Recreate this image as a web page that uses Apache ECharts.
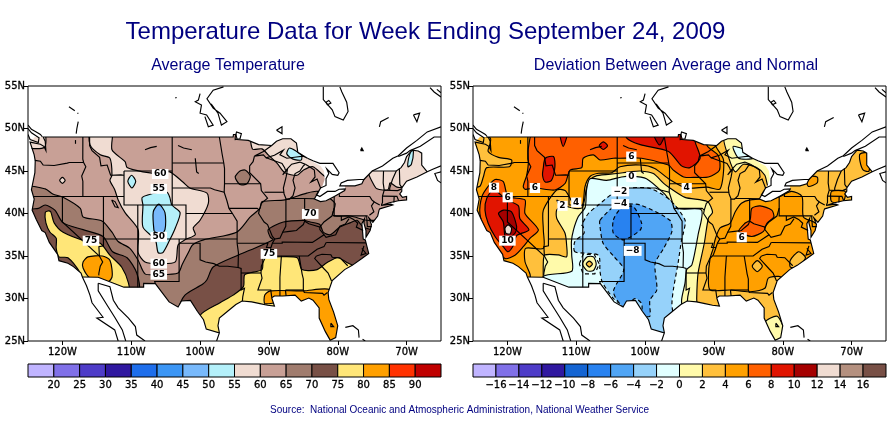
<!DOCTYPE html>
<html><head><meta charset="utf-8">
<style>html,body{margin:0;padding:0;background:#fff}#c{width:895px;height:423px}</style>
<script src="https://cdn.jsdelivr.net/npm/echarts@6/dist/echarts.min.js"></script>
</head><body><div id="c"></div>
<script>
const titleText = 'Temperature Data for Week Ending September 24, 2009';
const leftTitle = 'Average Temperature';
const rightTitle = 'Deviation Between Average and Normal';
const sourceText = 'Source:  National Oceanic and Atmospheric Administration, National Weather Service';
const lonTicks = [-120,-110,-100,-90,-80,-70];
const lonRange = [-125,-65];
const latRange = [25,55];

const avgBands = [15,20,25,30,35,40,45,50,55,60,65,70,75,80,85,90];
const avgColors = ['#c0b4ff','#8070e8','#4e3cc8','#3018a0','#1e6eeb','#3c96f5','#78b9fb','#b4f0fa','#f0dcd2','#c8a096','#a07c6e','#785046','#ffe678','#ffa000','#ff3200','#c00000'];
const devBands = [-18,-16,-14,-12,-10,-8,-6,-4,-2,0,2,4,6,8,10,12,14,16];
const devColors = ['#c0b4ff','#8070e8','#4e3cc8','#3018a0','#1464d2','#2882f0','#50a5f5','#96d2fa','#e1ffff','#fffaaa','#ffc03c','#ffa000','#ff6000','#e11400','#a50000','#f0dcd2','#b4907f','#785046'];

const landMask = [[-124.8,48.3],[-124,49],[-95.2,49],[-95.15,49.3],[-94.8,49.3],[-94.6,48.7],[-93,48.6],[-91.5,48.1],[-89.6,48],[-88.9,48.5],[-88,48.8],[-86.8,48.8],[-86,48.3],[-85.8,47.2],[-84.4,46.5],[-83.3,45.95],[-82.5,45.6],[-82,45],[-81.9,44],[-82.2,43.3],[-82.5,43],[-82.9,42.4],[-83.2,42],[-83.4,41.7],[-82.5,41.4],[-81.7,41.5],[-80.5,42],[-79,42.7],[-78.9,42.9],[-79,43.27],[-77.5,43.25],[-76.5,43.5],[-76.2,44],[-75,45],[-71.5,45],[-70.8,45.4],[-70.3,46],[-70,46.7],[-69.2,47.45],[-68.3,47.35],[-67.8,47.1],[-67.8,45.7],[-67,44.9],[-68.5,44.3],[-70,43.8],[-70.7,43],[-70.7,42.6],[-71,42.3],[-70.6,41.9],[-70,42],[-70,41.6],[-71.2,41.5],[-72.5,41.27],[-73.7,40.95],[-72.3,41.1],[-72,41],[-73.9,40.55],[-74,40.4],[-74.2,39.7],[-74.9,38.95],[-75.5,39.5],[-75.1,38.7],[-75.3,38],[-75.9,37.2],[-75.9,38],[-76.2,38.9],[-76.1,39.4],[-76.5,38.8],[-76.4,37.9],[-76.3,37],[-76,36.9],[-75.5,35.3],[-76.5,34.7],[-77.9,33.9],[-79,33.4],[-80.8,32.1],[-81.4,30.7],[-81.3,29.9],[-80.6,28.4],[-80,26.8],[-80.3,25.4],[-81.1,25.1],[-81.8,26.1],[-82.7,27.7],[-82.7,28.9],[-83.6,29.8],[-84.2,30.05],[-85.3,29.7],[-86.2,30.4],[-88,30.3],[-89.2,30.3],[-89.6,30.1],[-89.2,29.1],[-90.2,29.2],[-91.3,29.4],[-92.5,29.6],[-93.9,29.7],[-94.8,29.3],[-96,28.5],[-97.2,27.7],[-97.4,26.8],[-97.2,25.95],[-99.1,26.4],[-99.5,27.5],[-100.4,28.5],[-101.4,29.77],[-102.7,29.7],[-103.2,29],[-104.5,29.6],[-106.5,31.75],[-108.2,31.78],[-108.2,31.33],[-111.07,31.33],[-114.8,32.5],[-117.1,32.53],[-117.3,33],[-118.4,33.75],[-119.2,34.15],[-120.5,34.45],[-120.7,35.2],[-121.9,36.6],[-122.5,37.75],[-123,38],[-123.8,39.3],[-124.4,40.4],[-124.1,41.7],[-124.5,42.8],[-124,44.8],[-123.95,46.2],[-124.1,46.9]];

const coastLines = [
[[-122.8,49],[-122.5,48.5],[-122.4,47.4],[-122.7,47.9],[-123.2,48.15],[-124.7,48.4],[-124.1,46.9],[-123.95,46.2],[-124,44.8],[-124.5,42.8],[-124.1,41.7],[-124.4,40.4],[-123.8,39.3],[-123,38],[-122.5,37.75],[-121.9,36.6],[-120.7,35.2],[-120.5,34.45],[-119.2,34.15],[-118.4,33.75],[-117.3,33],[-117.1,32.53],[-116.5,31.5],[-116,30.4],[-115.7,29.5],[-114.1,27.8],[-115,27.7],[-112.4,26.3],[-111.9,25]],
[[-114.8,31.8],[-114.8,30.9],[-113.5,29.2],[-112.4,27.8],[-111.3,26.3],[-110.8,25]],
[[-114.8,31.8],[-113.1,31.4],[-112.6,29.8],[-111.9,28.9],[-110.4,27.7],[-109.4,26.7],[-109.2,25.7],[-108,25]],
[[-122.8,49],[-95.2,49],[-95.15,49.3],[-94.8,49.3],[-94.6,48.7],[-93,48.6],[-91.5,48.1],[-89.6,48]],
[[-117.1,32.53],[-114.8,32.5],[-111.07,31.33],[-108.2,31.33],[-108.2,31.78],[-106.5,31.75],[-104.5,29.6],[-103.2,29],[-102.7,29.7],[-101.4,29.77],[-100.4,28.5],[-99.5,27.5],[-99.1,26.4],[-97.2,25.95],[-97.6,25]],
[[-97.2,25.95],[-97.4,26.8],[-97.2,27.7],[-96,28.5],[-94.8,29.3],[-93.9,29.7],[-92.5,29.6],[-91.3,29.4],[-90.2,29.2],[-89.2,29.1],[-89.6,30.1],[-89.2,30.3],[-88,30.3],[-86.2,30.4],[-85.3,29.7],[-84.2,30.05],[-83.6,29.8],[-82.7,28.9],[-82.7,27.7],[-81.8,26.1],[-81.1,25.1],[-80.3,25.4],[-80,26.8],[-80.6,28.4],[-81.3,29.9],[-81.4,30.7],[-80.8,32.1],[-79,33.4],[-77.9,33.9],[-76.5,34.7],[-75.5,35.3],[-76,36.9],[-76.3,37],[-76.4,37.9],[-76.5,38.8],[-76.1,39.4],[-76.2,38.9],[-75.9,38],[-75.9,37.2],[-75.3,38],[-75.1,38.7],[-75.5,39.5],[-74.9,38.95],[-74.2,39.7],[-74,40.4],[-73.9,40.55],[-72,41],[-72.3,41.1],[-73.7,40.95],[-72.5,41.27],[-71.2,41.5],[-70,41.6],[-70,42],[-70.6,41.9],[-71,42.3],[-70.7,42.6],[-70.7,43],[-70,43.8],[-68.5,44.3],[-67,44.9],[-66.2,45.2],[-65,45.6]],
[[-67,44.9],[-67.8,45.7],[-67.8,47.1],[-68.3,47.35],[-69.2,47.45],[-70,46.7],[-70.3,46],[-70.8,45.4],[-71.5,45],[-75,45]],
[[-76.5,35.9],[-75.9,35.3],[-76.6,35.1],[-76.2,36.2]],
[[-92.1,46.75],[-90.8,47.3],[-89.6,48],[-88.9,48.5],[-88,48.8],[-86.8,48.8],[-86,48.3],[-85.8,47.2],[-84.4,46.5],[-85,46.75],[-86,46.65],[-87.4,46.5],[-88.4,46.9],[-87.9,47.45],[-89.2,46.85],[-90.4,46.55],[-90.8,46.9],[-92.1,46.75]],
[[-84.7,45.78],[-85.5,46.05],[-86.7,45.8],[-87.5,45.1],[-88,44.55],[-87.3,45.2],[-87.5,44.3],[-87.9,43],[-87.8,42.3],[-87.5,41.7],[-87,41.7],[-86.5,42.1],[-86.2,43],[-86.5,43.9],[-86.2,44.7],[-85.5,45],[-85,45.6],[-84.7,45.78]],
[[-84.7,45.78],[-84.1,45.5],[-83.4,45.1],[-83.3,44.3],[-83.9,43.7],[-83,44.05],[-82.5,43],[-81.7,43.3],[-81.7,44.1],[-81.3,44.7],[-81.6,45.25],[-80.8,44.6],[-80,44.5],[-79.8,44.8],[-80.7,45.9],[-82.6,45.9],[-83.6,46.2],[-84.4,46.5]],
[[-82.5,43],[-82.9,42.4],[-83.2,42],[-83.4,41.7],[-82.5,41.4],[-81.7,41.5],[-80.5,42],[-79,42.7],[-78.9,42.9],[-79.8,42.85],[-80.4,42.6],[-81.5,42.6],[-82.6,42],[-83.1,42.2],[-82.5,43]],
[[-79,43.27],[-77.5,43.25],[-76.5,43.5],[-76.2,44],[-76.9,44],[-78.6,43.9],[-79.5,43.6],[-79.7,43.25],[-79,43.27]],
[[-76.2,44],[-75,45],[-73.5,45.6],[-72,46.5],[-71.2,46.8],[-70,47.7],[-68.5,48.6],[-67,49.6],[-65,50.2]],
[[-71.2,46.7],[-70,47.1],[-69.5,47.4],[-68,47.9],[-66,49],[-65,49]],
[[-65,44.9],[-65.9,44.7],[-65.5,43.9],[-65,43.6]],
[[-66.6,54.8],[-66,54.3],[-65,53.7]],[[-65.6,54.6],[-65,54.2]],
[[-82.1,54.9],[-82.1,53.4],[-80.8,52.2],[-80.4,51.4],[-79.2,51],[-78.5,52],[-78.7,53.1],[-79.4,54.3],[-79.7,54.9]],
[[-81.7,53.1],[-81.3,53.3],[-81,53],[-81.5,52.8],[-81.7,53.1]],
[[-88.9,49.8],[-88.1,50.2],[-88.1,49.4],[-88.9,49.8]],
[[-73.95,50.2],[-73.76,50.8],[-72.6,51.3]],
[[-69,51.6],[-68.1,51.8],[-68.5,50.8],[-69,51.6]],
[[-76.7,47.4],[-76.3,47.4],[-76.5,47.7],[-76.7,47.4]],
[[-96.6,54.9],[-98.1,54.5],[-99,53.5],[-98.1,52.4],[-97.1,51.8],[-96.1,50.8],[-96.9,50.4],[-97.4,51.8],[-98.4,52.9]],
[[-100,54.1],[-100.25,53.35],[-100.7,53.15],[-99.8,52.76],[-100,51.8],[-99.05,51.6],[-98.1,50.4],[-98.8,50.2],[-99.3,51.4]],
[[-119.05,52.56],[-118.2,52.1]],[[-117.8,51.85],[-117.7,51.75]],[[-117.7,50.8],[-117.9,50],[-118,49.4]],[[-118.1,48.64],[-118.1,48.2]],[[-103.6,53.6],[-103.4,53.65]],
[[-94.9,49],[-94.7,49.6],[-94,49.4],[-94.2,48.8],[-94.9,48.7],[-94.9,49]],
[[-125,50.4],[-124.5,49.9],[-123.8,49.6],[-123.2,49.3],[-122.9,49]],
[[-125,49.3],[-124.7,48.7],[-123.5,48.35],[-123.4,48.9],[-124.5,49.5],[-125,50]],
[[-108,47.5],[-107.2,47.75],[-106.3,47.9]],[[-103.2,48],[-102.4,47.7],[-101.2,47.5]],[[-100.7,46.5],[-100.5,44.9],[-100.2,44.7]],
[[-112.85,41.6],[-112.36,41.4],[-111.9,40.7],[-112.36,40.8],[-112.85,41.6]],
[[-81,27.1],[-80.6,26.7],[-81,26.7],[-81,27.1]],
[[-78.9,26.6],[-77.8,26.8],[-77,26.3],[-76.9,25.4]],[[-76.4,25.2],[-76,25]]
];

const stateLines = [
[[-124,46.25],[-123.2,46.15],[-122.8,45.7],[-121.2,45.65],[-119.3,45.93],[-119,46],[-116.92,46]],
[[-117.03,49],[-117.04,46.4],[-116.92,46],[-116.6,45.5],[-117.2,44.4],[-117.03,43.8],[-117.03,42]],
[[-124.2,42],[-111.05,42]],
[[-120,42],[-120,39],[-114.63,35],[-114.15,34.3],[-114.5,33.8],[-114.7,33],[-114.72,32.72]],
[[-114.04,42],[-114.04,36.2],[-114.7,36.1],[-114.63,35]],
[[-114.04,37],[-94.62,37]],
[[-109.05,41],[-109.05,31.33]],
[[-111.05,45],[-111.05,41],[-102.05,41],[-102.05,37]],
[[-111.05,45],[-104.05,45]],
[[-116.05,49],[-116.05,48],[-115.7,47.4],[-114.6,46.6],[-114.4,45.6],[-113.5,45.7],[-113,44.5],[-111.5,44.55],[-111.05,44.5]],
[[-104.05,49],[-104.05,41]],
[[-104.05,45.94],[-96.56,45.94]],
[[-104.05,43],[-98.5,43],[-97.9,42.8],[-96.5,42.5],[-96.1,41.5],[-95.8,40.6],[-95.3,40],[-94.62,39.1],[-94.62,36.5]],
[[-102.05,40],[-95.3,40]],
[[-103.04,37],[-103.04,36.5],[-103.05,32],[-106.6,32],[-106.5,31.75]],
[[-103.04,36.5],[-100,36.5],[-100,34.56],[-99.2,34.3],[-98,34.1],[-97.2,33.8],[-96,33.8],[-94.48,33.65],[-94.04,33.55],[-94.04,31],[-93.55,31.2],[-93.8,30.2],[-93.85,29.7]],
[[-94.62,36.5],[-94.43,35.4],[-94.48,33.65]],
[[-94.62,36.5],[-90.15,36.5],[-90.35,36],[-89.7,36]],
[[-94.04,33],[-91.15,33]],
[[-97.2,49],[-96.8,47],[-96.56,45.94],[-96.45,45.3],[-96.45,43.5],[-96.5,42.5]],
[[-96.45,43.5],[-91.2,43.5]],
[[-95.8,40.6],[-91.7,40.6],[-91.4,40.4]],
[[-92.1,46.75],[-92.3,46.1],[-92.8,45.6],[-92.8,44.8],[-91.2,43.5],[-91.1,42.7],[-90.2,41.8],[-91.1,41.2],[-91.4,40.4],[-91.5,40],[-90.7,39],[-90.2,38.7],[-89.5,37.3],[-89.15,37],[-89.5,36.5],[-89.7,36],[-90.1,35.1],[-90.6,34.7],[-91.1,33.8],[-91.15,33],[-91,32.4],[-91.6,31],[-89.73,31],[-89.6,30.2]],
[[-88.1,35],[-88.2,34.9],[-88.4,32.5],[-88.4,30.3]],
[[-90.1,35],[-84.3,35],[-83,35.8],[-82,36.1],[-81.68,36.59]],
[[-89.5,36.5],[-88.07,36.5],[-88.07,36.65],[-83.68,36.6],[-82,37.5],[-82.6,38.1],[-82.6,38.4]],
[[-81.68,36.59],[-75.9,36.55]],
[[-89.15,37],[-88.4,37.1],[-88,37.8],[-87,37.9],[-86,38],[-85.6,38.3],[-85,38.7],[-84.8,39.1],[-84.2,38.8],[-83.6,38.65],[-82.6,38.4],[-82,39],[-80.85,39.7],[-80.52,40.64],[-80.52,42]],
[[-88,37.8],[-87.55,38.5],[-87.53,39.3],[-87.53,41.7]],
[[-84.81,39.1],[-84.81,41.7]],
[[-87,41.76],[-84.8,41.76],[-83.45,41.73]],
[[-90.65,42.5],[-87.8,42.5]],
[[-90.4,46.55],[-89,46.15],[-88.1,45.9],[-87.7,45.35],[-87.6,45.1]],
[[-80.52,40.64],[-80.52,39.72],[-75.8,39.72],[-75.7,38.46],[-75.05,38.45]],
[[-79.76,42.27],[-79.76,42],[-75.35,42],[-75.05,41.6],[-74.7,41.36],[-75.1,40.9],[-74.75,40.2],[-75.4,39.8]],
[[-74.7,41.36],[-73.9,41]],
[[-79.48,39.72],[-79.48,39.2],[-78.4,39.6],[-77.7,39.3],[-77.1,38.85],[-77.3,38.4],[-76.3,38]],
[[-78.35,39.4],[-78.9,38.75],[-79.7,38.5],[-80.3,37.5],[-81.7,37.2],[-82,37.5]],
[[-83.1,35],[-82.3,35.2],[-81,35.15],[-80.8,34.85],[-79.7,34.8],[-78.55,33.85]],
[[-83.1,35],[-83.35,34.7],[-82,33.5],[-81.4,33],[-80.9,32.05]],
[[-85.6,35],[-85.18,32.9],[-85,32.3],[-85,31],[-84.86,30.7],[-82.2,30.6],[-82,30.4],[-81.5,30.7]],
[[-87.6,31],[-85,31]],[[-87.6,31],[-87.5,30.3]],
[[-73.35,45],[-73.4,43.6],[-73.25,42.75],[-73.5,42.05],[-73.5,41.3],[-73.65,41]],
[[-71.5,45],[-72.05,44],[-72.45,43],[-72.45,42.73]],
[[-73.25,42.74],[-71.3,42.7],[-70.8,42.87]],
[[-71.05,45.3],[-70.98,43.4],[-70.7,43.07]],
[[-73.5,42.05],[-71.4,42.02],[-71.15,41.5]],
[[-71.8,42.02],[-71.85,41.3]]
];

/* Each region: [lower value of its colour band, ring of [lon, lat]] */
const avgBase = [[60,[[-125,25.2],[-65.2,25.2],[-65.2,54],[-125,54]]]];
const avgRegions = [
[55,[[-115.9,50],[-116,48.1],[-114.5,46.9],[-113.1,46.5],[-112.8,44.5],[-113.1,43.9],[-112.4,42.8],[-111.9,41.6],[-110.9,40.1],[-109,38.1],[-109,35.4],[-108,34.3],[-106,34.1],[-103.6,34.3],[-103.2,36.3],[-102.2,36.9],[-100.7,37.5],[-101,38.3],[-100,39.2],[-98.8,41.2],[-99,42.4],[-101.5,43],[-102.5,43.7],[-104.4,44.9],[-105.8,44.7],[-108.3,44.9],[-110.6,45.4],[-110.9,46.1],[-112.8,47.5],[-112.8,50]]],
[55,[[-120.4,43.9],[-120,44.25],[-119.6,43.9],[-120,43.55]]],
[55,[[-92.4,50],[-92.4,47.6],[-91,47.6],[-90.1,46.9],[-88.8,45.9],[-87.7,44.8],[-85.9,44.5],[-85,45.1],[-83.6,45.5],[-81.6,44.3],[-81,47],[-85,50]]],
[55,[[-74,46],[-75.5,44.8],[-74.9,43.6],[-74.3,42.9],[-72.7,42.8],[-72.4,43.6],[-71.4,43.1],[-70.5,43.1],[-69,43.5],[-66,44],[-66,49],[-72,48]]],
[55,[[-125,49.5],[-122.6,49.5],[-122.6,47.8],[-125,47.8]]],
[50,[[-110.5,43.8],[-109.95,44.5],[-109.35,43.8],[-109.9,43]]],
[50,[[-106,42.5],[-108.4,41.9],[-108.3,41],[-108.3,38.4],[-106.5,36.9],[-106.1,35.4],[-105.4,35.4],[-104.4,36.9],[-103.6,38.3],[-102.9,40.1],[-104.1,41],[-104.4,41.9],[-104.8,42.5]]],
[50,[[-87.4,47],[-86.5,46.4],[-85.3,46.3],[-85.3,46.9],[-87,47.7]]],
[50,[[-69.8,45.5],[-69.3,45.8],[-69,47.3],[-69.3,47.4],[-69.7,46.5]]],
[45,[[-106,41.1],[-106.8,40.2],[-106.7,38],[-106.5,37.8],[-106,37.2],[-105.1,38.1],[-105.1,40.1]]],
[65,[[-125,43],[-122.5,42.9],[-121.4,42.3],[-119.9,41.9],[-117.4,40.6],[-117,39.6],[-114.2,39.1],[-112.8,37.8],[-111.9,36.7],[-110.2,35.9],[-109,34.5],[-108,32.9],[-106,32.8],[-103.2,33],[-102.6,34],[-101.7,35.4],[-101.1,36.3],[-99.5,36.9],[-94.7,37.8],[-92.7,39.6],[-91.3,40.6],[-91,41.4],[-87.7,41.6],[-84.5,42.4],[-82.9,42.6],[-80.4,41.2],[-80.7,39.8],[-78.2,39.7],[-75.8,39.2],[-73,39],[-66,30],[-66,25.2],[-125,25.2]]],
[65,[[-94.9,44.3],[-94.2,45],[-93.4,45.1],[-92.7,44.4],[-93.2,43.5],[-94.2,43.4]]],
[70,[[-124.8,40.4],[-123.5,40.6],[-122.5,41],[-121.1,40.4],[-119.9,38.9],[-117,38.1],[-114.1,37.3],[-112.7,35.5],[-110.6,34.8],[-109.2,33],[-109,31],[-118,31],[-122,33.5],[-124.8,38]]],
[70,[[-103,28.8],[-102.2,30.4],[-99.6,31.7],[-99,32.2],[-98.1,33.7],[-94.5,35.1],[-92.7,35.7],[-89.4,36.9],[-89.8,37.2],[-90.1,38.1],[-87.9,39],[-85,39.2],[-84,39],[-82.6,38.7],[-82.1,37.8],[-81.1,37.5],[-79.7,38.4],[-78.2,38.9],[-77.2,39.2],[-76.3,38.4],[-72,37],[-72,26],[-98,25.2],[-100,27]]],
[75,[[-122.5,40.1],[-122.1,40.3],[-121.7,40.2],[-121.2,38.9],[-119.9,37.8],[-116.4,36.7],[-114.5,36.5],[-113.1,35.1],[-111.4,33.7],[-110.4,31.8],[-110.4,30.5],[-116,30.5],[-117.4,33],[-119.2,34.8],[-120.5,34.9],[-120.9,35.9],[-120.9,37.1],[-121.8,37.8],[-122.4,38.9]]],
[75,[[-100,28],[-97.1,29.5],[-95.2,30.4],[-93.7,31.4],[-93.5,32.8],[-91,33.4],[-90.8,34.8],[-89.1,34.9],[-85.9,34.8],[-85.2,33.4],[-83,33.4],[-81.6,34.2],[-80,34.8],[-78.6,34.2],[-76,33],[-76,25.2],[-100,25.2]]],
[80,[[-117,34.3],[-116.3,34.9],[-114.2,35],[-113.1,34.5],[-112.8,32.5],[-114,31.6],[-116,32.4],[-117,33.6]]],
[80,[[-90.6,29.4],[-90.6,30.4],[-89.8,30.9],[-85,30.9],[-81.4,31.1],[-80,30],[-79,25.2],[-83,25.2],[-84,29.3],[-86,29.7],[-89,29.5]]]
];

const devBase = [[4,[[-125,25.2],[-65.2,25.2],[-65.2,54],[-125,54]]]];
const devRegions = [
[2,[[-125,48.9],[-122.5,48.9],[-122.5,48.25],[-122.8,47.3],[-121.3,46.6],[-119.4,46.3],[-119.7,45.5],[-123,45.4],[-123.5,44.3],[-124,43.2],[-125,43.2]]],
[2,[[-116.7,31],[-116.7,32.8],[-117.45,34.35],[-117.35,35.9],[-114.78,35.9],[-114.78,38.07],[-114.78,40.4],[-112.84,42.77],[-111.63,42.7],[-110.9,41.8],[-110.28,40.9],[-109.1,41],[-108.73,43.17],[-108,44.35],[-106.8,44.73],[-104.85,44.8],[-103.64,45.5],[-100.7,45.7],[-98.6,45.3],[-96.45,44],[-94,43],[-91,43.1],[-89.1,42.9],[-88.6,46.3],[-89.84,48.1],[-89.84,50],[-66,50],[-66,25.2],[-116.7,25.2]]],
[4,[[-87.66,38.85],[-86.9,40.2],[-86,41.2],[-84.7,41.6],[-81.1,41.8],[-80.4,42],[-78.7,42.6],[-77.2,42],[-77,39.6],[-75.5,39],[-74,38],[-74,35],[-78,32],[-80.6,32.6],[-82.1,32.4],[-82.6,31.2],[-84.75,30.8],[-87.66,31],[-90.56,31],[-90.8,32.6],[-90.56,34.7],[-90.1,35.9],[-89.8,37],[-89.1,38.3]]],
[4,[[-68.77,47],[-67.56,47.1],[-67.46,45],[-68.3,45.1],[-68.77,46.1]]],
[4,[[-72.9,42.6],[-70.95,42.6],[-71.2,41.4],[-72.9,41.4]]],
[4,[[-76.5,44.3],[-75,44.3],[-75,43.6],[-76.3,43.2]]],
[6,[[-84.5,40.6],[-83.3,40.9],[-81.6,40.4],[-81.3,39.6],[-82.3,38.85],[-82.8,37.9],[-84.5,37.3],[-86.4,37.9],[-85.5,38.85],[-84.75,39.24]]],
[2,[[-78.9,34.5],[-77.7,35.5],[-76.7,34.8],[-77.9,33.7],[-78.9,33.7]]],
[2,[[-84.43,33.8],[-83.7,34.45],[-82.97,33.8],[-83.7,33.15]]],
[0,[[-82.6,27.2],[-80.8,27.9],[-79.7,26],[-80.4,25.2],[-82,25.2]]],
[0,[[-114.78,30.5],[-114.78,34.35],[-114.54,35.13],[-112.6,35.13],[-111.4,34.9],[-111.4,36.3],[-111.63,37.68],[-112.84,39.44],[-112.84,40.4],[-112,40.9],[-110.2,40.6],[-109.1,40.7],[-108.5,43],[-108,43.95],[-107,44.45],[-104.1,44.7],[-102.2,44.9],[-100.7,45],[-98.8,44.7],[-97.3,43.55],[-96.4,43],[-94.2,41.9],[-90.95,41.4],[-90.2,40.15],[-90.8,39.44],[-91.4,36.5],[-92.3,33],[-92.5,30],[-92.5,25.2],[-114.78,25.2]]],
[0,[[-88.5,49],[-87.9,46.7],[-86.9,44.9],[-85.7,45.8],[-83.8,45.4],[-82.6,44.5],[-82,43],[-80,44],[-80,46],[-85,49]]],
[-2,[[-87.2,47.9],[-86.4,46.5],[-84.27,46.5],[-85,47.3]]],
[-2,[[-114.8,30.5],[-114.78,32.6],[-110.66,33.2],[-110.66,35.1],[-110.7,36.7],[-110.4,38.07],[-109.7,39.64],[-108.7,40.74],[-108.5,42.8],[-108,44.1],[-105.6,43.9],[-103.4,44.3],[-102,44.4],[-99.8,44.1],[-97.3,42.4],[-95.2,40.6],[-91.8,40.4],[-92.3,37.5],[-93.2,33.95],[-93.95,33.4],[-94.2,31.8],[-94.7,29.8],[-94.7,25.2],[-114.8,25.2]]],
[-4,[[-110.2,35.5],[-110.2,36.7],[-108.87,37.67],[-109,38.46],[-109.2,38.65],[-108.24,40],[-106.8,41],[-104.6,42.4],[-102.7,42.96],[-99.3,42.96],[-96.4,41.6],[-94.2,39.24],[-94.44,37.7],[-94.7,36.9],[-95.2,34.2],[-95.9,31],[-96.1,29.4],[-96,26],[-103,26],[-103.1,28.85],[-104.6,30],[-106.2,31.9],[-106.55,33.2],[-106.8,35.1]]],
[-6,[[-106.55,39.2],[-104.6,40.8],[-103.64,41.1],[-100.7,41],[-96.4,39.2],[-96.1,37.9],[-97.3,35.9],[-98.55,34.1],[-98.3,31],[-99.3,29.8],[-99.3,27.9],[-100.35,28.1],[-100.5,29.4],[-101.46,30],[-103.1,28.97],[-104.6,30.8],[-103.1,33.4],[-104.6,35],[-106.1,36.5],[-106.55,38.46]]],
[-8,[[-104.6,39.24],[-103.6,40.5],[-101.7,40.8],[-100.5,38.84],[-100.7,38.06],[-103.1,36.9],[-104.6,37.67]]],
[0,[[-109.1,34.07],[-108.4,34.9],[-107.5,34.9],[-107.1,34.07],[-107.5,33.3],[-108.4,33.25]]],
[2,[[-108.55,34.07],[-108.1,34.4],[-107.65,34.07],[-108.1,33.7]]],
[6,[[-116,50],[-116.96,47.67],[-116.96,45.9],[-117.2,44.5],[-117.7,43.2],[-117.45,42.85],[-115.95,43],[-113.1,42.77],[-111.6,43.56],[-110.9,45.1],[-109.2,45.4],[-109,46.5],[-107.5,46.9],[-106.55,46.3],[-104.6,46.5],[-103.64,46.5],[-100.5,46.5],[-96.6,45.7],[-95.9,45.1],[-94.4,44.3],[-92.5,44.25],[-90.8,44.3],[-89.2,45.1],[-89.35,46.8],[-91,48],[-91,50]]],
[6,[[-123.7,42],[-122.8,43.2],[-121.8,44],[-120.6,43.75],[-119.9,42],[-117.45,41.6],[-117.45,40],[-115.5,38.07],[-116.7,37.1],[-117.7,36.1],[-118.9,35.1],[-120.35,34.7],[-121.8,36.1],[-123.25,38.07],[-124,40]]],
[8,[[-114.8,45.3],[-114.5,46.5],[-113.3,46.7],[-113.1,45.5],[-113.6,43.9],[-114.5,43.7],[-114.9,44.5]]],
[8,[[-112.36,49.5],[-111.9,47.9],[-111.3,49.5]]],
[8,[[-106.66,47.98],[-106.06,48.43],[-105.46,47.98],[-106.06,47.53]]],
[8,[[-102.7,50],[-102.7,48.9],[-100.7,48.1],[-96.6,47.3],[-94.7,45.6],[-93.5,45.4],[-92,46.5],[-92.75,48.5],[-92.75,50]]],
[10,[[-98.8,49.5],[-97.9,48.06],[-97.1,49.5]]],
[8,[[-123.26,40.4],[-123,41.8],[-122,42.85],[-121.1,42.3],[-120.1,41.6],[-118.4,40.9],[-118.2,39.4],[-116.87,38.07],[-118.66,37.4],[-119.1,36.3],[-119.9,35.5],[-120.6,36.1],[-121.8,37.3],[-122.8,38.85]]],
[10,[[-121.3,40],[-120.6,40.4],[-119.4,40.2],[-118.66,38.46],[-118.9,37.68],[-119.9,37.1],[-120.35,37.3],[-120.6,39]]],
[12,[[-120.35,38.27],[-119.9,38.66],[-119.4,38.27],[-119.6,37.6],[-120.2,37.67]]]
];
const devDashedRings = [[[-109.55,34.07],[-109,35.2],[-107.4,35.2],[-106.65,34.07],[-107.3,32.9],[-109,32.9],[-109.55,34.07]]];

const avgLabels = [[-105.8,44.65,'60'],[-106,42.9,'55'],[-106,37.25,'50'],[-106,34.1,'60'],[-106,32.8,'65'],[-115.85,36.8,'75'],[-84,39.95,'70'],[-90,35.25,'75']];
const devLabels = [[-121.95,43.04,'8'],[-119.96,41.9,'6'],[-116,43,'6'],[-112,40.9,'2'],[-110,41.3,'4'],[-102,46.7,'6'],[-102,44.3,'0'],[-103.6,42.6,'\u22122'],[-103.6,41.1,'\u22124'],[-120,36.8,'10'],[-101.8,35.6,'\u22128'],[-93.95,43,'4'],[-85.96,37.2,'6']];

const font = 'DejaVu Sans';
const lineW = 1.15;
function polyLayer(ax, regions, bands, colors, dashBelow, z){
  return {type:'custom',xAxisIndex:ax,yAxisIndex:ax,z,silent:true,clip:true,animation:false,
    data:regions.map(r=>r[1][0]),
    encode:{x:0,y:1},
    renderItem(params,api){
      const r=regions[params.dataIndex];
      return {type:'polygon',shape:{points:r[1].map(p=>api.coord(p)),smooth:0.25},
        style:{fill:colors[bands.indexOf(r[0])],stroke:'#000',lineWidth:lineW,lineDash:r[0]<=dashBelow?[4,3]:null}};
    }};
}
function lineLayer(ax, lines, z, dash){
  return {type:'custom',xAxisIndex:ax,yAxisIndex:ax,z,silent:true,clip:true,animation:false,
    data:lines.map(l=>l[0]),encode:{x:0,y:1},
    renderItem(params,api){
      return {type:'polyline',shape:{points:lines[params.dataIndex].map(p=>api.coord(p))},
        style:{fill:null,stroke:'#000',lineWidth:lineW,lineDash:dash||null}};
    }};
}
function maskLayer(ax, z){
  const outer=[[lonRange[0],latRange[1]],[lonRange[0],latRange[0]],[lonRange[1],latRange[0]],[lonRange[1],latRange[1]],[lonRange[0],latRange[1]]];
  const ring=outer.concat(landMask,[landMask[0]],[outer[0]]);
  return {type:'custom',xAxisIndex:ax,yAxisIndex:ax,z,silent:true,animation:false,
    data:[outer[0]],encode:{x:0,y:1},
    renderItem(params,api){
      return {type:'polygon',shape:{points:ring.map(p=>api.coord(p))},style:{fill:'#fff',stroke:null}};
    }};
}
function frameLayer(ax, z){
  return {type:'custom',xAxisIndex:ax,yAxisIndex:ax,z,silent:true,animation:false,
    data:[[lonRange[0],latRange[0]]],encode:{x:0,y:1},
    renderItem(params,api){
      const a=api.coord([lonRange[0],latRange[1]]),b=api.coord([lonRange[1],latRange[0]]);
      return {type:'rect',shape:{x:a[0],y:a[1],width:b[0]-a[0],height:b[1]-a[1]},style:{fill:null,stroke:'#000',lineWidth:1}};
    }};
}
function labelLayer(ax, labels, z){
  return {type:'scatter',xAxisIndex:ax,yAxisIndex:ax,z,silent:true,animation:false,symbolSize:1,
    itemStyle:{color:'transparent',opacity:1},
    data:labels,
    label:{show:true,position:'inside',formatter:p=>p.value[2],color:'#000',fontFamily:font,fontSize:9,fontWeight:'bold',backgroundColor:'#fff',padding:[1,2,0,2]}};
}
function barLayer(ax, bands, colors, step){
  return {type:'custom',xAxisIndex:ax,yAxisIndex:ax,z:3,silent:true,animation:false,
    data:bands.map(b=>[b,0]),encode:{x:0,y:1},
    renderItem(params,api){
      const b=bands[params.dataIndex];
      const a=api.coord([b,1]),c=api.coord([b+step,0]);
      return {type:'rect',shape:{x:a[0],y:a[1],width:c[0]-a[0],height:c[1]-a[1]},style:{fill:colors[params.dataIndex],stroke:'#000',lineWidth:1}};
    }};
}
const dark={textBorderColor:'#000',textBorderWidth:0.3};
const mapX = ()=>({type:'value',min:lonRange[0],max:lonRange[1],splitLine:{show:false},axisLine:{show:false},
  axisTick:{show:true,length:4,customValues:lonTicks,lineStyle:{color:'#000'}},
  axisLabel:{customValues:lonTicks,formatter:v=>Math.abs(v)+'W',color:'#000',fontFamily:font,fontSize:10,margin:6,...dark}});
const mapY = ()=>({type:'value',min:latRange[0],max:latRange[1],interval:5,splitLine:{show:false},axisLine:{show:false},
  axisTick:{show:true,length:4,lineStyle:{color:'#000'}},
  axisLabel:{formatter:v=>v+'N',color:'#000',fontFamily:font,fontSize:10,margin:3,...dark}});
const barX = (min,max,step)=>({type:'value',min,max,interval:step,splitLine:{show:false},axisLine:{show:false},axisTick:{show:false},
  axisLabel:{showMinLabel:false,showMaxLabel:false,formatter:v=>String(v).replace('-','\u2212'),color:'#000',fontFamily:font,fontSize:10,margin:3,...dark}});
const barY = ()=>({type:'value',min:0,max:1,show:false});

const chart = echarts.init(document.getElementById('c'),null,{renderer:'canvas'});
const textBase={fontFamily:'Liberation Sans',fontWeight:'normal',color:'#000080'};
chart.setOption({
  animation:false,backgroundColor:'#fff',
  title:[
    {text:titleText,left:420.5,top:15,textAlign:'center',textStyle:{...textBase,fontSize:24}},
    {text:leftTitle,left:223,top:53,textAlign:'center',textStyle:{...textBase,fontSize:16}},
    {text:rightTitle,left:671,top:53,textAlign:'center',textStyle:{...textBase,fontSize:16}},
    {text:sourceText,left:454.5,top:400,textAlign:'center',textStyle:{...textBase,fontSize:10}}
  ],
  grid:[
    {left:28,top:86,width:413,height:255},
    {left:473,top:86,width:413,height:255},
    {left:28,top:364,width:413,height:13},
    {left:473,top:364,width:413,height:13}
  ],
  xAxis:[{...mapX(),gridIndex:0},{...mapX(),gridIndex:1},{...barX(15,95,5),gridIndex:2},{...barX(-18,18,2),gridIndex:3}],
  yAxis:[{...mapY(),gridIndex:0},{...mapY(),gridIndex:1},{...barY(),gridIndex:2},{...barY(),gridIndex:3}],
  series:[
    polyLayer(0,avgBase.concat(avgRegions),avgBands,avgColors,-999,1),
    polyLayer(1,devBase.concat(devRegions),devBands,devColors,-4,1),
    lineLayer(1,devDashedRings,2,[4,3]),
    maskLayer(0,3),maskLayer(1,3),
    lineLayer(0,stateLines,4),lineLayer(1,stateLines,4),
    lineLayer(0,coastLines,4),lineLayer(1,coastLines,4),
    labelLayer(0,avgLabels,5),labelLayer(1,devLabels,5),
    frameLayer(0,6),frameLayer(1,6),
    barLayer(2,avgBands,avgColors,5),barLayer(3,devBands,devColors,2)
  ]
});
</script></body></html>
